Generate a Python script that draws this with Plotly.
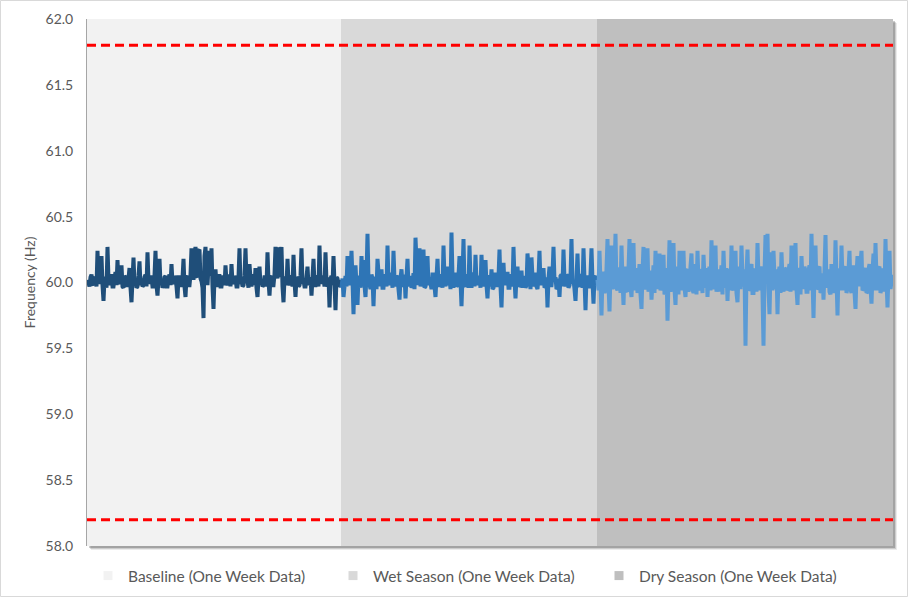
import plotly.graph_objects as go

# ---- data ----
# Frequency deviations from the 60 Hz nominal, in hundredths of a hertz (0.01 Hz),
# one value per sample.
NOMINAL_HZ = 60.0
baseline_dev_cHz = [
    2, -2, -3, 4, 6, -1, -2, 3, 4, -3, 24, 1, -1, 5, 20, -2, -14, 3, 3, -4,
    27, 2, -2, 5, 5, -3, -3, 3, 8, -2, 17, 0, -1, 4, 13, -3, -4, 5, 4, -2,
    -2, 3, 11, -4, -15, 2, 19, -1, 2, -4, -3, 5, 16, -2, 3, -3, -2, 4, 6, -3,
    23, 1, -1, 4, 4, -3, -3, 5, 24, -2, -10, 3, 18, -1, 2, -4, -2, 4, 5, -3,
    -3, 3, 6, -2, 14, 0, -1, 5, 3, -3, -12, 4, 4, -2, -2, 3, 18, -3, -11, 4,
    5, -2, -2, 6, 26, 8, 2, 22, 27, 5, 4, 24, 25, 3, 1, -4, -27, 20, 27, 6,
    -2, 12, 24, 5, 26, -3, -20, 4, 10, -2, -2, 5, 5, -3, -3, 4, 4, -2, 13, 1,
    -2, 4, 6, -3, 14, 0, -1, 5, 3, -3, -3, 4, 26, -1, 2, -3, -2, 5, 26, 2,
    1, -4, 14, 3, -3, 5, 5, -2, 11, -4, -11, 3, 12, -1, 2, -3, -2, 4, 4, -3,
    23, 1, -10, 4, 5, -2, -2, 6, 27, 10, 3, 25, 26, 4, 27, -3, -15, 3, 4, -2,
    18, 0, -2, 4, 5, -3, 21, 1, -11, 4, 3, -3, -2, 5, 26, -1, 2, -3, -3, 4,
    12, -2, 3, 4, -10, 3, 18, -2, -2, 4, 5, -3, 28, 2, -1, 4, 4, -3, 23, 0,
    -3, 4, -19, 3, 5, -2, 20, -1, -21, 4, 3, -3, -2, 2,
]
wet_dev_cHz = [
    -4, 3, -11, 5, 5, -3, 20, 1, -2, 6, 24, 2, -24, 4, 13, -2, -17, 5, 4, -4,
    20, 3, 17, -2, -11, 6, 37, 2, -1, -5, 6, 3, -18, 4, 3, -5, 18, 2, -3, 6,
    10, -4, -4, 5, 5, -3, 28, 1, -2, 6, 6, -4, 24, 2, -3, 5, 4, -5, -13, 3,
    10, -2, -2, 6, -12, 4, 18, -3, 3, 5, -4, -2, 7, -5, 34, 3, -2, 6, 26, -3,
    2, 5, 25, -4, -3, 4, 20, -2, 4, -5, -5, 6, 6, -3, -11, 4, 18, -2, -2, 5,
    5, -4, 28, 3, -3, 6, 12, -2, 3, -5, 38, 4, -4, 6, 6, -3, -2, 5, 20, 1,
    -18, 4, 33, -2, -3, 5, 5, -4, 28, 2, -4, 6, 7, -3, 21, 0, -2, 5, 4, -4,
    21, 3, -3, 6, 17, -2, -12, 4, 5, -3, 10, -5, -4, 6, 6, -2, -2, 4, 25, -3,
    -19, 5, 15, -2, 2, 6, 8, -4, -4, 5, 5, -3, 27, 2, -12, 4, 12, -3, -2, 6,
    9, -4, 3, 5, -4, -2, 22, 3, 2, -5, 19, 4, -3, 6, 6, -3, -5, 4, 24, -2,
    3, 5, 11, -4, -3, 4, -19, 3, 12, -2, -2, 6, 27, 1, 4, -5, -4, 3, -11, 5,
    6, -3, 25, 2, -3, 6, 5, -4, -2, 4, 33, -1, 2, -5, -14, 3, 22, -2, -3, 5,
    6, -4, 26, 2, -21, 4, 4, -3, -3, 6, 26, 1, -16, 4, 5, -2,
]
dry_dev_cHz = [
    2, -6, 24, 3, -25, 6, 8, -8, -5, 10, 33, -2, -22, 7, 28, -5, -2, 9, 37, -4,
    -6, 11, 10, -8, 28, 2, -17, 9, 12, -6, -7, 10, 33, -3, -11, 8, 30, -6, 5, 11,
    -8, 6, 14, -9, -20, 7, 27, -4, -4, 12, 26, -7, 4, 9, -13, 6, 13, -8, 24, 3,
    -5, 10, 22, -6, 0, 8, 21, -9, -7, 11, -29, 5, 32, -7, -3, 10, 30, -5, -17, 8,
    12, -9, 24, 2, -6, 11, 24, -4, -11, 9, 10, -7, -3, 12, 22, -5, -8, 8, 14, -9,
    24, 1, -6, 10, 8, -8, 21, 3, -4, 11, -11, 7, 12, -6, 32, -2, -5, 9, 28, -7,
    3, 10, -7, 6, 13, -9, 24, 2, -4, 11, -14, 7, 10, -6, 28, -3, -6, 9, 24, -8,
    -15, 6, 12, -5, 28, 4, -3, 10, -48, 7, 25, -6, -5, 11, 14, -8, -8, 9, 10, -7,
    30, 3, -6, 10, 12, -8, -48, 6, 36, 8, 37, -5, -24, 9, 23, -6, 24, 4, -5, 10,
    -24, 7, 12, -8, 23, 2, -7, 11, 10, -6, -4, 9, 14, -7, 28, 3, -6, 10, 30, -5,
    -17, 8, 11, -9, 20, 2, -5, 12, 8, -7, -7, 9, 13, -6, 37, 3, -27, 8, 28, -5,
    -4, 11, 12, -8, -6, 7, -13, 9, 36, -4, 2, 10, -7, -9, 14, 6, -4, -8, 32, 4,
    -25, 9, 10, -6, 28, 2, -6, 11, 12, -8, -4, 9, 24, -5, -8, 10, 13, -7, -20, 6,
    20, -3, 5, 10, 24, -6, -5, 9, 11, -8, -7, 10, 14, -4, -16, 8, 22, -6, 30, 3,
    -6, 11, 12, -8, -4, 9, 10, -7, 33, 2, -19, 8, 24, -5, 2, 6,
]
period_names = ["Baseline (One Week Data)", "Wet Season (One Week Data)", "Dry Season (One Week Data)"]
upper_limit_hz = 61.8
lower_limit_hz = 58.2
y_ticks = [58.0, 58.5, 59.0, 59.5, 60.0, 60.5, 61.0, 61.5, 62.0]

# ---- styling ----
line_colors = ["#1F4E79", "#2E75B6", "#5B9BD5"]
bg_colors = ["#F2F2F2", "#D9D9D9", "#BFBFBF"]
text_color = "#595959"
FONT = "Lato"
FIG_W, FIG_H = 908, 597

series = [[NOMINAL_HZ + d / 100.0 for d in dev]
          for dev in (baseline_dev_cHz, wet_dev_cHz, dry_dev_cHz)]
starts = []
s = 0
for vals in series:
    starts.append(s)
    s += len(vals)
total = s
x_lo, x_hi = -0.5, total - 0.5

fig = go.Figure()

shapes = []
W, H = 806.0, 527.0
# plot-area shadow (paper coords)
for off, alpha in [(4, 0.08), (3, 0.13), (2, 0.20)]:
    shapes.append(dict(type="rect", xref="paper", yref="paper", layer="below",
                       x0=off / W, x1=1 + off / W, y0=-off / H, y1=1 - off / H,
                       line=dict(width=0), fillcolor=f"rgba(0,0,0,{alpha})"))
# outer chart border
shapes.append(dict(type="rect", xref="paper", yref="paper", layer="below",
                   x0=-86.5 / W, x1=820.5 / W, y0=-50.5 / H, y1=545.5 / H,
                   line=dict(width=1, color="#D9D9D9"), fillcolor="rgba(0,0,0,0)"))
# period backgrounds
for i, vals in enumerate(series):
    shapes.append(dict(type="rect", xref="x", yref="paper", layer="below",
                       x0=starts[i] - 0.5, x1=starts[i] + len(vals) - 0.5, y0=0, y1=1,
                       line=dict(width=0), fillcolor=bg_colors[i]))

# frequency series
for i, vals in enumerate(series):
    x = list(range(starts[i], starts[i] + len(vals)))
    fig.add_trace(go.Scatter(x=x, y=vals, mode="lines", showlegend=False,
                             line=dict(color=line_colors[i], width=4),
                             hoverinfo="skip"))

# limit lines
for lim in [upper_limit_hz, lower_limit_hz]:
    fig.add_trace(go.Scatter(x=[x_lo, x_hi], y=[lim, lim], mode="lines", showlegend=False,
                             line=dict(color="#FF0000", width=3, dash="9px,5px"),
                             hoverinfo="skip"))

# legend entries for the period backgrounds
legend_names = ["legend", "legend2", "legend3"]
legend_x_px = [88, 333, 599]
for i, name in enumerate(period_names):
    fig.add_trace(go.Scatter(x=[None], y=[None], mode="markers", name=name,
                             legend=legend_names[i],
                             marker=dict(symbol="square", size=9, color=bg_colors[i],
                                         line=dict(width=0))))

legends = {}
for i, ln in enumerate(legend_names):
    legends[ln] = dict(orientation="h", xref="container", yref="container",
                       x=legend_x_px[i] / FIG_W, xanchor="left",
                       y=(FIG_H - 576) / FIG_H, yanchor="middle",
                       bgcolor="rgba(0,0,0,0)",
                       font=dict(family=FONT, size=15.5, color=text_color))

fig.update_layout(
    width=FIG_W, height=FIG_H,
    margin=dict(l=87, r=15, t=19, b=51, pad=0),
    paper_bgcolor="white",
    plot_bgcolor="rgba(0,0,0,0)",
    shapes=shapes,
    font=dict(family=FONT, size=13, color=text_color),
    xaxis=dict(range=[x_lo, x_hi], visible=False, showgrid=False, zeroline=False,
               automargin=False),
    yaxis=dict(range=[58, 62], tickvals=y_ticks, tickformat=".1f",
               automargin=False,
               showgrid=False, zeroline=False, ticks="",
               showline=True, linecolor="#A6A6A6", linewidth=1,
               ticklabelstandoff=10,
               tickfont=dict(family=FONT, size=14, color=text_color),
               title=dict(text="Frequency (Hz)", standoff=6,
                          font=dict(family=FONT, size=14, color=text_color))),
    **legends,
)

fig.write_html("out.html",
               config={"displayModeBar": False},
               post_script="document.body.style.margin='0';document.body.style.overflow='hidden';")
